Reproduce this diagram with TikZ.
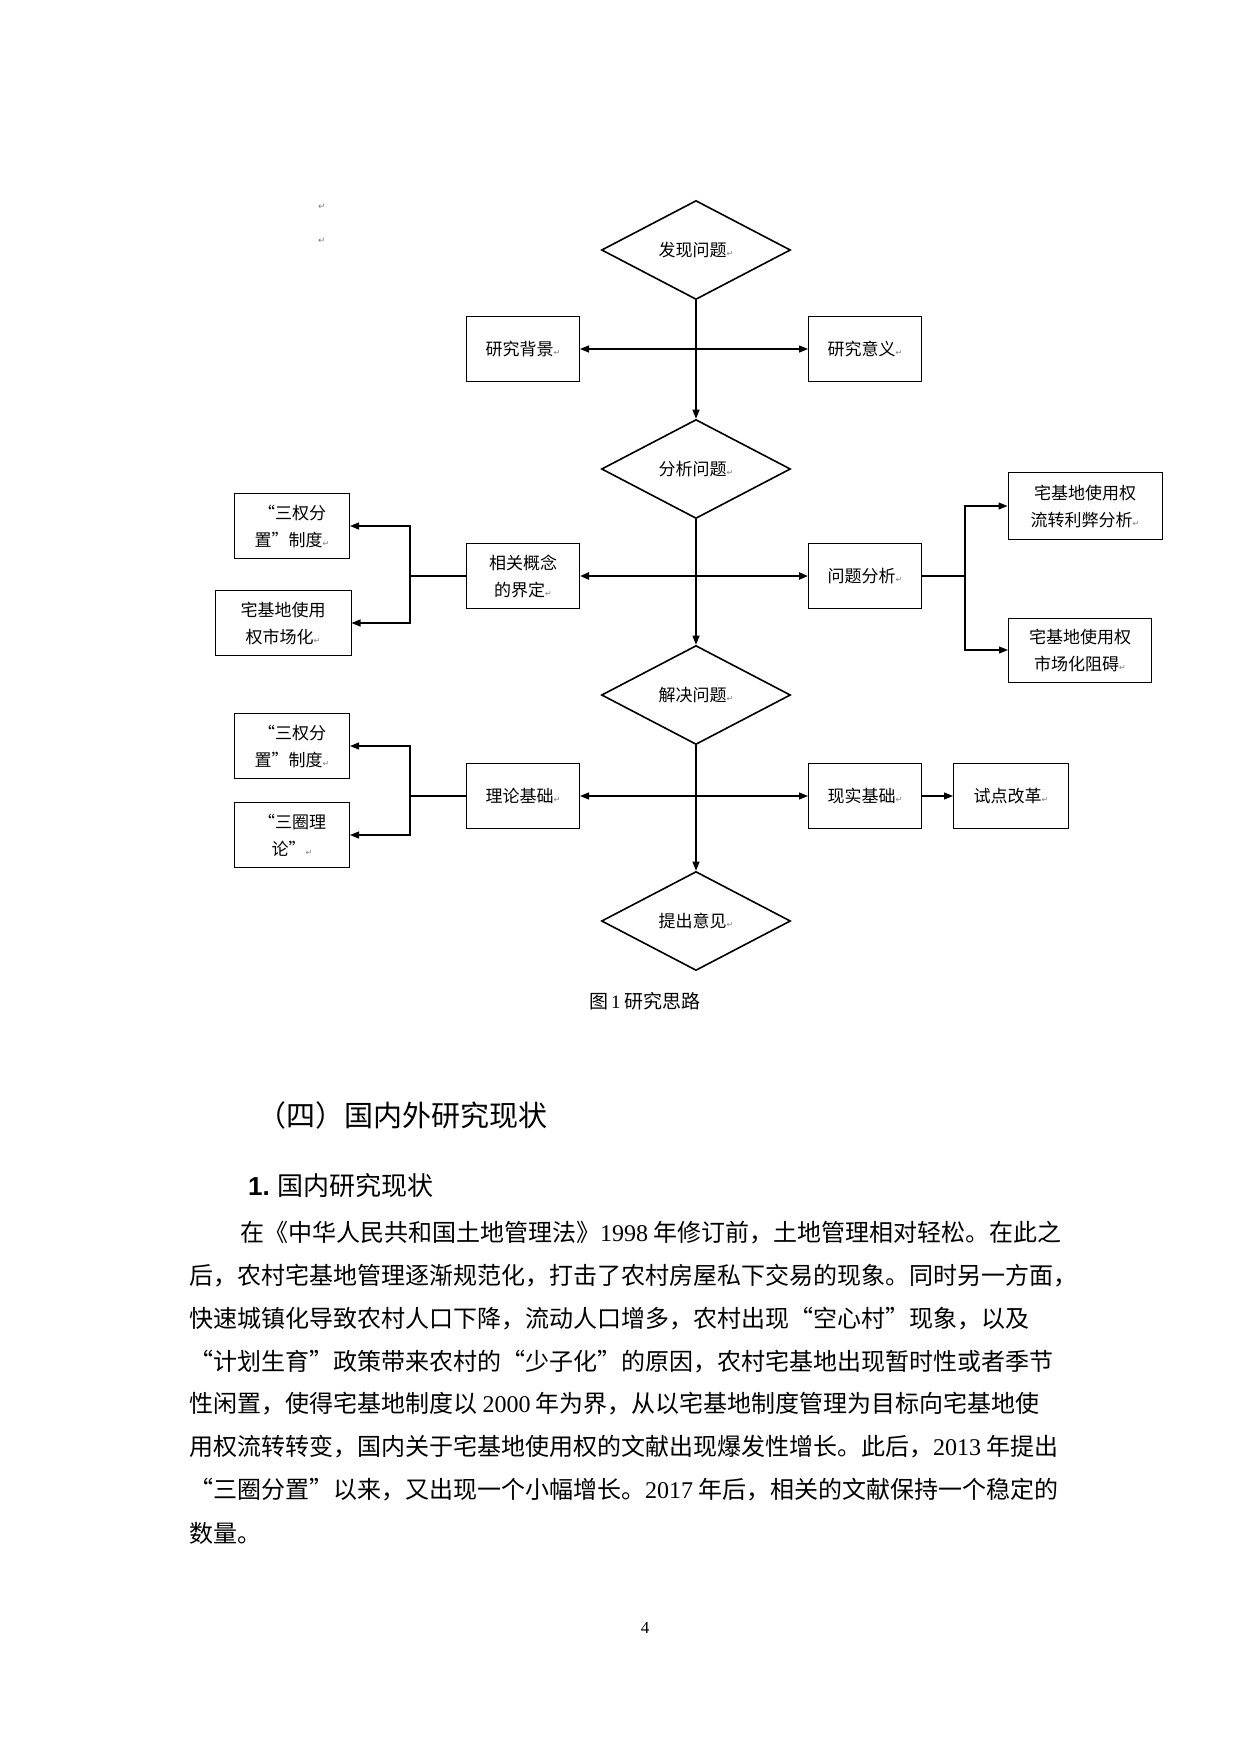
\documentclass[tikz,border=0pt]{standalone}
\usepackage{fontspec}
\setmainfont{Liberation Serif}
\newfontfamily\cjk{Noto Sans CJK SC}
\newfontfamily\djv{DejaVu Sans}
\usetikzlibrary{shapes.geometric,arrows.meta}
\newcommand{\rtn}{{\djv\fontsize{8}{8}\selectfont\textcolor{gray}{↵}}}
\begin{document}
\begin{tikzpicture}[x=1pt,y=-1pt,
  lab/.style={font=\cjk\fontsize{17}{27}\selectfont,align=center},
  box/.style={lab,draw,line width=1pt,minimum width=113pt,minimum height=65pt,inner sep=2pt},
  dia/.style={lab,draw,diamond,line width=1.6pt,aspect=1.9,inner sep=0pt,minimum width=189pt,minimum height=99pt},
  ln/.style={line width=1.2pt},
  arr/.style={ln,-{Triangle[length=9pt,width=7pt]}},
  darr/.style={ln,{Triangle[length=9pt,width=7pt]}-{Triangle[length=9pt,width=7pt]}},
  body/.style={font=\cjk\fontsize{24}{24}\selectfont,anchor=west,inner sep=0pt}]
\useasboundingbox (0,0) rectangle (1240,1754);
\begin{scope}[xshift=-4pt]
\node[font=\djv\fontsize{9}{9}\selectfont,text=gray] (m1) at (326,207) {↵};
\node[font=\djv\fontsize{9}{9}\selectfont,text=gray] (m2) at (326,241) {↵};
\node[dia] (d1) at (700,250) {发现问题\rtn};
\node[dia] (d2) at (700,469) {分析问题\rtn};
\node[dia] (d3) at (700,695) {解决问题\rtn};
\node[dia] (d4) at (700,921) {提出意见\rtn};
\node[box] (b1) at (527,349) {研究背景\rtn};
\node[box] (b2) at (869,349) {研究意义\rtn};
\node[box] (c1) at (527,576) {相关概念\\的界定\rtn};
\node[box] (c2) at (869,576) {问题分析\rtn};
\node[box,minimum width=115pt] (l1) at (296,526) {“三权分\\置”制度\rtn};
\node[box,minimum width=136pt] (l2) at (287,623) {宅基地使用\\权市场化\rtn};
\node[box,minimum width=154pt,minimum height=67pt] (r1) at (1089,506) {宅基地使用权\\流转利弊分析\rtn};
\node[box,minimum width=143pt,minimum height=64pt] (r2) at (1084,650) {宅基地使用权\\市场化阻碍\rtn};
\node[box] (t1) at (527,796) {理论基础\rtn};
\node[box] (t2) at (869,796) {现实基础\rtn};
\node[box,minimum width=115pt] (t3) at (1015,796) {试点改革\rtn};
\node[box,minimum width=115pt] (k1) at (296,746) {“三权分\\置”制度\rtn};
\node[box,minimum width=115pt] (k2) at (296,835) {“三圈理\\论”\rtn};
\draw[arr] (d1.south) -- (d2.north);
\draw[darr] (b1.east) -- (b2.west);
\draw[arr] (d2.south) -- (d3.north);
\draw[darr,line width=2.6pt] (c1.east) -- (c2.west);
\draw[arr] (d3.south) -- (d4.north);
\draw[darr] (t1.east) -- (t2.west);
\draw[arr] (t2.east) -- (t3.west);
\coordinate (jl) at (414,576);
\coordinate (jr) at (969,576);
\coordinate (jt) at (414,796);
\draw[ln,line width=2pt] (c1.west) -- (jl);
\draw[arr] (jl) |- (l1.east);
\draw[arr] (jl) |- (l2.east);
\draw[ln,line width=2pt] (c2.east) -- (jr);
\draw[arr] (jr) |- (r1.west);
\draw[arr] (jr) |- (r2.west);
\draw[ln] (t1.west) -- (jt);
\draw[arr] (jt) |- (k1.east);
\draw[arr] (jt) |- (k2.east);
\end{scope}
\node[font=\cjk\fontsize{19}{19}\selectfont] (cap) at (645,1001) {图\,{\rmfamily 1} 研究思路};
\begin{scope}[yshift=9pt]
\node[font=\cjk\fontsize{29}{29}\selectfont,anchor=west,inner sep=0pt] (h1) at (257,1124) {（四）国内外研究现状};
\node[font=\cjk\fontsize{26}{26}\selectfont,anchor=west,inner sep=0pt] (h2) at (248,1195) {{\fontspec{Liberation Sans}\bfseries 1.} 国内研究现状};
\node[body] (p1) at (240,1242) {在《中华人民共和国土地管理法》{\rmfamily 1998} 年修订前，土地管理相对轻松。在此之};
\node[body] (p2) at (189,1285) {后，农村宅基地管理逐渐规范化，打击了农村房屋私下交易的现象。同时另一方面，};
\node[body] (p3) at (189,1328) {快速城镇化导致农村人口下降，流动人口增多，农村出现“空心村”现象，以及};
\node[body] (p4) at (189,1371) {“计划生育”政策带来农村的“少子化”的原因，农村宅基地出现暂时性或者季节};
\node[body] (p5) at (189,1413) {性闲置，使得宅基地制度以 {\rmfamily 2000} 年为界，从以宅基地制度管理为目标向宅基地使};
\node[body] (p6) at (189,1456) {用权流转转变，国内关于宅基地使用权的文献出现爆发性增长。此后，{\rmfamily 2013} 年提出};
\node[body] (p7) at (189,1499) {“三圈分置”以来，又出现一个小幅增长。{\rmfamily 2017} 年后，相关的文献保持一个稳定的};
\node[body] (p8) at (189,1542) {数量。};
\end{scope}
\node[font=\rmfamily\fontsize{17}{17}\selectfont] (pg) at (645,1628) {4};
\end{tikzpicture}
\end{document}
